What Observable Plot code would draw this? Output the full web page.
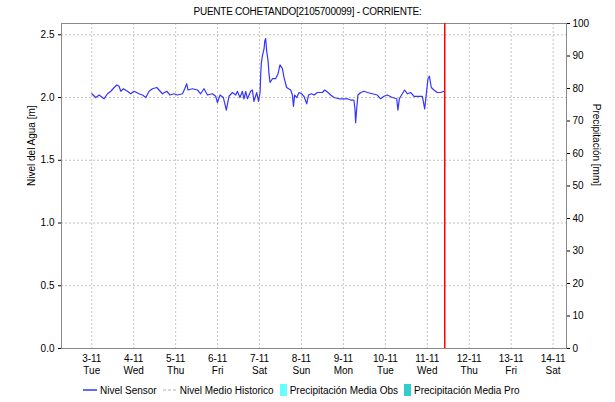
<!DOCTYPE html>
<html><head><meta charset="utf-8">
<script src="https://cdn.jsdelivr.net/npm/d3@7"></script>
<script src="https://cdn.jsdelivr.net/npm/@observablehq/plot@0.6"></script>
<style>
body{margin:0;background:#fff;font-family:"Liberation Sans",Arial,sans-serif;color:#000;}
#title{height:12px;text-align:center;font-size:10px;letter-spacing:-0.25px;line-height:11px;padding-top:6px;box-sizing:border-box;overflow:visible;white-space:nowrap;position:relative;z-index:2;}
#legend{height:24px;display:flex;align-items:center;padding-left:83px;font-size:10px;box-sizing:border-box;}
#legend .it{display:inline-flex;align-items:center;margin-right:6px;}
#legend svg{margin-right:3px;}
</style></head><body>
<div id="title"></div><div id="chart"></div><div id="legend"></div>
<script>
const titulo = "PUENTE COHETANDO[2105700099] - CORRIENTE:";
// hours since 2020-11-03 00:00
const horas = [
 0,2.3,4.2,7,9,10.9,12.8,14.3,15.6,16.6,
 18.1,20.4,22.3,24.2,27,29,30.9,32.8,34.7,37.2,
 38.5,40.4,42.9,44.8,47,49,51.9,53.2,54.3,55.1,
 57.6,60.5,62.3,64.2,66.2,69,70.9,71.9,73.4,75.3,
 77,78.5,80.5,82.4,83.3,84.8,86.2,87.1,88.1,89.1,
 90.9,91.9,92.8,94.4,95.4,96.3,96.7,97.0,97.6,98.6,
 99.0,99.5,100.1,100.9,101.4,102.0,103.4,105.2,106.6,107.7,
 109.1,110.0,111.5,113.8,114.8,115.4,116.1,117.3,118.6,120.1,
 121.4,123.0,124.0,125.7,127.2,129.1,132.0,133.3,135.2,136.7,
 138.6,141.5,144.3,146.3,148.1,150.0,150.6,151.0,151.6,152.3,
 153.9,155.8,157.7,160.6,163.4,165.3,167.2,169.1,172.0,174.5,
 175.2,176.0,177.7,179.0,180.6,182.5,184.4,186.3,189.2,190.5,
 191.6,192.4,193.2,194.3,195.8,197.7,199.6,201.5
];
const nivel = [
 2.03,2.00,2.02,1.99,2.03,2.05,2.08,2.10,2.09,2.05,
 2.07,2.05,2.03,2.05,2.03,2.02,2.00,2.05,2.07,2.08,
 2.06,2.03,2.05,2.02,2.03,2.02,2.03,2.07,2.11,2.06,
 2.07,2.06,2.03,2.07,2.02,2.03,2.01,1.96,2.02,2.00,
 1.90,2.01,2.04,2.02,2.05,2.00,2.05,1.99,2.05,1.99,
 2.05,2.06,1.97,2.04,1.97,2.04,2.19,2.27,2.33,2.39,
 2.45,2.47,2.37,2.29,2.19,2.12,2.15,2.15,2.19,2.26,
 2.23,2.16,2.08,2.06,2.02,1.93,2.02,2.00,2.04,2.03,
 2.01,1.95,2.02,2.03,2.02,2.04,2.04,2.06,2.04,2.02,
 2.00,1.99,1.99,1.99,1.98,1.98,1.91,1.80,1.91,2.02,
 2.04,2.05,2.04,2.03,2.02,1.99,2.01,2.02,2.00,1.99,
 1.90,1.99,2.03,2.06,2.03,2.04,2.01,2.01,2.01,1.91,
 2.05,2.15,2.17,2.08,2.06,2.04,2.04,2.05
];
const fechasTick = ["2020-11-03","2020-11-04","2020-11-05","2020-11-06","2020-11-07","2020-11-08","2020-11-09","2020-11-10","2020-11-11","2020-11-12","2020-11-13","2020-11-14"];
const etiquetasFecha = ["3-11","4-11","5-11","6-11","7-11","8-11","9-11","10-11","11-11","12-11","13-11","14-11"];
const etiquetasDia = ["Tue","Wed","Thu","Fri","Sat","Sun","Mon","Tue","Wed","Thu","Fri","Sat"];
const nivelTicks = [0,0.5,1.0,1.5,2.0,2.5];
const precipTicks = [0,10,20,30,40,50,60,70,80,90,100];
const ahora = "2020-11-11T10:00Z";
const xInicio = "2020-11-02T06:40Z", xFin = "2020-11-14T07:40Z";
const yMax = 2.59;
const etiquetaIzq = "Nivel del Agua [m]";
const etiquetaDer = "Precipitación [mm]";

document.getElementById("title").textContent = titulo;

const base = Date.parse("2020-11-03T00:00Z");
const datos = horas.map((h,i)=>({t:new Date(base + h*3600e3), v:nivel[i]}));
const tickDates = fechasTick.map(s=>new Date(s+"T00:00Z"));
const lab = new Map(tickDates.map((d,i)=>[d.getTime(), etiquetasFecha[i]+"\n"+etiquetasDia[i]]));
const gridStyle = {stroke:"#c4c4c4", strokeOpacity:1, strokeDasharray:"2,2"};

const chart = Plot.plot({
  width:615, height:366,
  marginTop:11, marginBottom:30, marginLeft:61, marginRight:49,
  style:{fontFamily:"'Liberation Sans', Arial, sans-serif", fontSize:"10px", background:"transparent", color:"#000"},
  x:{type:"utc", domain:[new Date(xInicio), new Date(xFin)]},
  y:{domain:[0,yMax]},
  marks:[
    Plot.gridX(tickDates, gridStyle),
    Plot.gridY(nivelTicks, gridStyle),
    Plot.frame({stroke:"#8a8a8a"}),
    Plot.line(datos, {x:"t", y:"v", stroke:"#3535ff", strokeWidth:1.2}),
    Plot.ruleX([new Date(ahora)], {stroke:"#ff0000", strokeWidth:1.5}),
    Plot.axisX(tickDates, {tickSize:0, tickPadding:5, lineHeight:1.2, tickFormat:d=>lab.get(d.getTime()), label:null}),
    Plot.axisY(nivelTicks, {anchor:"left", tickSize:3, tickPadding:4, tickFormat:d=>d.toFixed(1), label:null}),
    Plot.axisY(precipTicks.map(p=>p*yMax/100), {anchor:"right", tickSize:3, tickPadding:3, tickFormat:d=>String(Math.round(d*100/yMax)), label:null}),
    Plot.text([etiquetaIzq], {frameAnchor:"left", rotate:-90, dx:-30, fontSize:10}),
    Plot.text([etiquetaDer], {frameAnchor:"right", rotate:90, dx:30, fontSize:10})
  ]
});
document.getElementById("chart").appendChild(chart);

const legendItems = [
  {name:"Nivel Sensor", kind:"line", color:"#0000ff"},
  {name:"Nivel Medio Historico", kind:"dash", color:"#b0b0b0"},
  {name:"Precipitación Media Obs", kind:"box", color:"#66ffff"},
  {name:"Precipitación Media Pro", kind:"box", color:"#33cccc"}
];
const leg = document.getElementById("legend");
for (const it of legendItems) {
  const span = document.createElement("span"); span.className="it";
  let sw;
  if (it.kind==="box") sw = `<svg width="7" height="12"><rect x="0" y="0" width="7" height="12" fill="${it.color}"/></svg>`;
  else sw = `<svg width="14" height="10"><line x1="0" x2="14" y1="5" y2="5" stroke="${it.color}" stroke-width="1.2" ${it.kind==="dash"?'stroke-dasharray="3,2"':''}/></svg>`;
  span.innerHTML = sw + `<span>${it.name}</span>`;
  leg.appendChild(span);
}
</script>
</body></html>
